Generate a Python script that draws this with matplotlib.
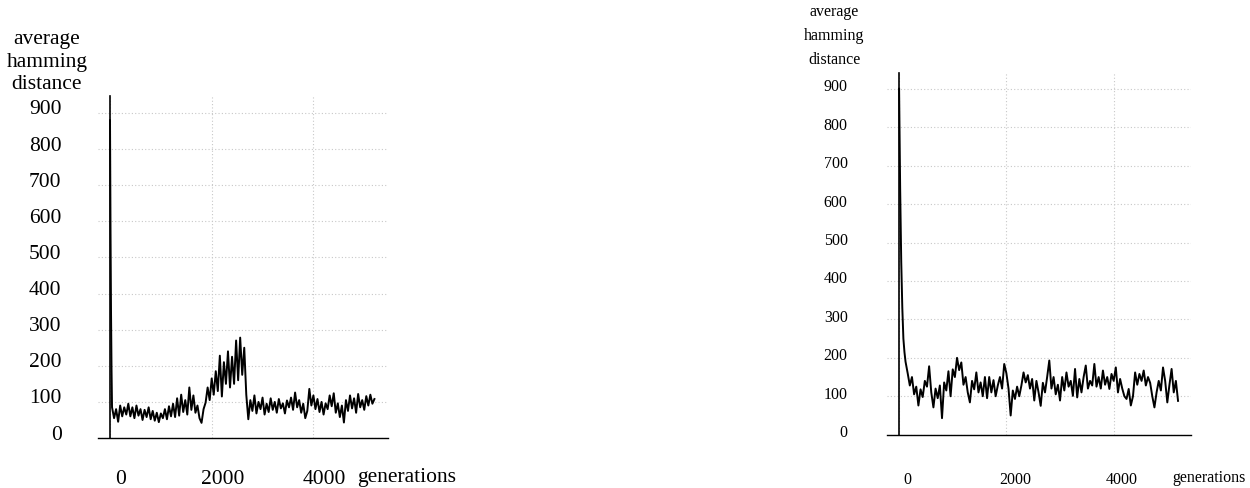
import numpy as np
import matplotlib
matplotlib.use("Agg")
import matplotlib.pyplot as plt
from matplotlib.transforms import ScaledTranslation

plt.rcParams['font.family'] = ['Liberation Serif', 'DejaVu Serif']

Y_TICKS = [0, 100, 200, 300, 400, 500, 600, 700, 800, 900]
X_TICKS = [0, 2000, 4000]

# run A: early collapse, then a burst of diversity around generation 2000-2600
run_a_head_gen = [0, 10, 20, 30]
run_a_head = [880, 580, 350, 190]
run_a_body = [
    85, 55, 80, 45, 90, 60, 85,
    65, 95, 60, 85, 55, 90, 62, 80,
    50, 78, 58, 85, 52, 75, 48, 70, 44, 68,
    55, 80, 52, 88, 60, 95, 58, 110, 62, 120,
    72, 105, 65, 140, 78, 118, 70, 90, 55,
    42, 80, 98, 140, 105, 165,
    120, 185, 130, 228, 115, 210, 150, 240, 140, 225,
    150, 270, 160, 278, 175, 250,
    120, 52,
    105, 75, 118, 68, 100, 80, 112, 65, 95, 72, 110, 78,
    100, 70, 108, 82, 96, 68, 104, 85, 112, 78,
    126, 85, 105, 70, 95, 55,
    75, 136, 90, 118, 80, 108,
    72, 100, 65, 96, 80, 118, 88, 124, 70, 96,
    58, 90, 43, 105, 75, 118, 82,
    110, 70, 122, 85, 105, 78, 116, 90, 120, 95, 108,
]

# run B: smooth decay from the initial population, then a steady plateau
run_b_head_gen = [0, 20, 40, 60, 80, 100, 120, 160]
run_b_head = [900, 640, 450, 330, 250, 215, 190, 160]
run_b_body = [
    128, 150, 105, 125, 76,
    118, 98, 140, 125, 178, 110,
    71, 120, 95, 128, 43,
    136, 115, 165, 100, 170,
    150, 200, 168, 188, 130, 150, 110,
    84, 140, 118, 162, 110, 136, 100, 150,
    95, 150, 110, 142, 100, 128, 150, 120,
    184, 160, 120, 50,
    115, 93, 125, 100, 128, 162, 136, 155,
    120, 145, 89, 140, 110, 75,
    135, 110, 150, 193, 120, 150, 105, 130, 89,
    150, 115, 162, 125, 140, 101, 171, 97,
    145, 110, 150, 180, 120, 140, 128, 184,
    125, 150, 120, 167, 130, 150, 119, 158,
    140, 175, 110, 145, 120, 100, 93,
    119, 76, 100, 162, 130,
    158, 140, 167, 128, 150, 135, 100,
    71, 110, 140, 115, 175, 140, 84,
    130, 171, 110, 140, 88,
]

run_a_gen = np.concatenate([run_a_head_gen, np.arange(40, 5201, 40)])
run_a_val = np.concatenate([run_a_head, run_a_body])
run_b_gen = np.concatenate([run_b_head_gen, np.arange(200, 5201, 40)])
run_b_val = np.concatenate([run_b_head, run_b_body])


def shift(labels, fig, dx, dy):
    """Nudge tick labels by dx, dy pixels."""
    off = ScaledTranslation(dx / fig.dpi, dy / fig.dpi, fig.dpi_scale_trans)
    for lab in labels:
        lab.set_transform(lab.get_transform() + off)


def draw_panel(fig, rect, gens, vals, xlim, ylim, fs, xpad, ypad, xs, ys,
               gen_pos, dist_pos, linesp):
    ax = fig.add_axes(rect)
    ax.plot(gens, vals, color='black', lw=1.4, zorder=3)
    ax.set_xlim(xlim)
    ax.set_ylim(ylim)
    for s in ('top', 'right'):
        ax.spines[s].set_visible(False)
    ax.spines['left'].set_position(('data', 0))
    ax.spines['left'].set_linewidth(1.2)
    ax.spines['bottom'].set_linewidth(1.0)
    ax.set_yticks(Y_TICKS, [str(t) for t in Y_TICKS])
    ax.set_xticks(X_TICKS, [str(t) for t in X_TICKS])
    ax.tick_params(length=0, labelsize=fs)
    ax.tick_params(axis='x', pad=xpad)
    ax.tick_params(axis='y', pad=ypad)
    ax.grid(color='#c8c8c8', linestyle=(0, (1, 2)), lw=0.8)
    shift(ax.get_xticklabels(), fig, xs, 0)
    shift(ax.get_yticklabels(), fig, 0, ys)
    ax.text(gen_pos[0], gen_pos[1], 'generations', transform=ax.transAxes,
            ha='left', va='center', fontsize=fs)
    ax.text(dist_pos[0], dist_pos[1], 'average\nhamming\ndistance',
            transform=ax.transAxes, ha='center', va='center', fontsize=fs,
            linespacing=linesp)
    return ax


fig = plt.figure(figsize=(12.5, 4.89), dpi=100)

ax_a = draw_panel(fig, [0.0784, 0.1022, 0.232, 0.6994], run_a_gen, run_a_val,
                  (-236, 5467), (0, 947), 15.5, 22.5, 34.9, 11, 6.5,
                  (0.893, -0.113), (-0.176, 1.102), 1.24)
# single marker tick at the top of the scale
ax_a.set_yticks([900], minor=True)
ax_a.tick_params(axis='y', which='minor', length=9, width=1.2,
                 direction='inout', color='0.4')

draw_panel(fig, [0.7094, 0.109, 0.2432, 0.7397], run_b_gen, run_b_val,
           (-230, 5437), (0, 941), 11.5, 26, 37, 8.5, 4.5,
           (0.9385, -0.117), (-0.173, 1.104), 1.66)

fig.savefig('out.png', dpi=100)
